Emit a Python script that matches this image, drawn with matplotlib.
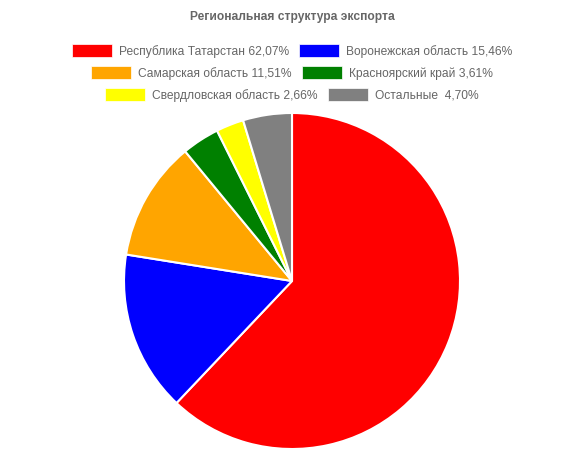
#!/usr/bin/env python3
"""Regional export structure pie chart (Chart.js look)."""

import matplotlib
matplotlib.use("Agg")
import matplotlib.pyplot as plt
from matplotlib.patches import Rectangle

W, H = 584, 450

regions = [
    "Республика Татарстан",
    "Воронежская область",
    "Самарская область",
    "Красноярский край",
    "Свердловская область",
    "Остальные ",
]
shares = [62.07, 15.46, 11.51, 3.61, 2.66, 4.70]
share_labels = ["62,07%", "15,46%", "11,51%", "3,61%", "2,66%", "4,70%"]
colors = ["#ff0000", "#0000ff", "#ffa500", "#008000", "#ffff00", "#808080"]
title = "Региональная структура экспорта"

plt.rcParams["font.family"] = ["Liberation Sans", "DejaVu Sans"]
FS = 12 * 72 / 100  # 12px at 100 dpi
GREY = "#666666"

fig = plt.figure(figsize=(W / 100, H / 100), dpi=100, facecolor="white")


def px(x, y):
    """Pixel coords (top-left origin) to figure fraction."""
    return x / W, 1 - y / H


fig.text(*px(W / 2, 17), title, ha="center", va="center",
         fontsize=FS, fontweight="bold", color=GREY)

# legend, drawn by hand in rows like Chart.js
renderer = fig.canvas.get_renderer()
rows = [[0, 1], [2, 3], [4, 5]]
row_y = [50, 72, 94]
box_w, box_h, gap, pad = 40, 13, 7, 10
for idx, y in zip(rows, row_y):
    labels = [f"{regions[i]} {share_labels[i]}" for i in idx]
    widths = []
    for lab in labels:
        t = fig.text(0, 0, lab, fontsize=FS)
        widths.append(t.get_window_extent(renderer).width)
        t.remove()
    total = sum(box_w + gap + w for w in widths) + pad * (len(idx) - 1)
    x = W / 2 - total / 2
    for i, lab, w in zip(idx, labels, widths):
        bx, by = px(x, y + box_h / 2)
        fig.patches.append(Rectangle((bx, by), box_w / W, box_h / H,
                                     transform=fig.transFigure,
                                     facecolor=colors[i], edgecolor="white",
                                     linewidth=0.5))
        fig.text(*px(x + box_w + gap, y + 1.5), lab, ha="left", va="center",
                 fontsize=FS, color=GREY)
        x += box_w + gap + w + pad

# pie
cx, cy, r = 292, 281, 168
ax = fig.add_axes([(cx - r) / W, (H - cy - r) / H, 2 * r / W, 2 * r / H])
ax.pie(shares, colors=colors, startangle=90, counterclock=False,
       wedgeprops=dict(edgecolor="white", linewidth=1.5))
ax.set_xlim(-1.0, 1.0)
ax.set_ylim(-1.0, 1.0)
ax.set_aspect("equal")
ax.axis("off")

fig.savefig("out.png", dpi=100, facecolor="white")
